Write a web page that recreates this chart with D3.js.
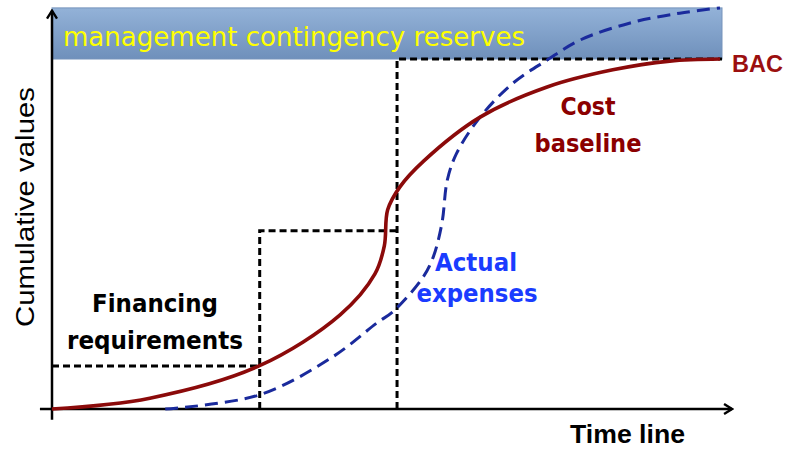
<!DOCTYPE html>
<html>
<head>
<meta charset="utf-8">
<script src="https://d3js.org/d3.v7.min.js"></script>
<style>
body { margin: 0; background: #fff; }
</style>
</head>
<body>
<svg id="chart" width="789" height="449"></svg>
<script>
// cost baseline (planned cumulative cost), time in % of schedule, value in % of BAC
const baselineT = [0, 14.6, 30.9, 43, 48.2, 49.6, 50.1, 51.9, 55.5, 63.9, 73.9, 83.7, 92.2, 99.7];
const baselineV = [0, 3.1, 12.3, 26.9, 38.6, 46.6, 56.9, 63.4, 70.9, 83.4, 92, 96.9, 99.4, 100];

// actual expenses
const actualT = [16.9, 30.9, 41.9, 48.5, 51, 55.4, 56.9, 58.2, 59, 60.4, 63.9, 68.8, 73.9, 78.8, 86.3, 93.7, 99.7];
const actualV = [0, 4, 14.9, 24.6, 28, 37.7, 43.4, 53.1, 65.4, 73.1, 83.4, 93.1, 99.7, 105.4, 110.3, 113.1, 114.6];

// financing requirements (step funding)
const fundingT = [0, 31, 51.5, 100];
const fundingV = [12.3, 50.9, 100];

// management reserve on top of BAC
const reserveTop = 114.6;

const svg = d3.select("#chart");
const x = d3.scaleLinear().domain([0, 100]).range([52, 722]);
const y = d3.scaleLinear().domain([0, 100]).range([409, 59]);

const defs = svg.append("defs");
const grad = defs.append("linearGradient").attr("id", "band").attr("x1", 0).attr("y1", 0).attr("x2", 0).attr("y2", 1);
grad.append("stop").attr("offset", "0%").attr("stop-color", "#93b2d8");
grad.append("stop").attr("offset", "100%").attr("stop-color", "#6f90bb");

defs.append("marker").attr("id", "arrow")
  .attr("viewBox", "0 0 12 12").attr("refX", 10).attr("refY", 6)
  .attr("markerWidth", 12).attr("markerHeight", 12).attr("markerUnits", "userSpaceOnUse")
  .attr("orient", "auto")
  .append("path").attr("d", "M2,1 L10,6 L2,11").attr("fill", "none")
  .attr("stroke", "#000").attr("stroke-width", 2.4);

// reserve band
svg.append("rect")
  .attr("x", x(0)).attr("y", y(reserveTop))
  .attr("width", x(100) - x(0)).attr("height", y(100) - y(reserveTop))
  .attr("fill", "url(#band)").attr("stroke", "#7693bb").attr("stroke-width", 1);

svg.append("text")
  .attr("x", 63).attr("y", 46)
  .attr("font-family", "DejaVu Sans, Verdana, sans-serif").attr("font-size", 27)
  .attr("textLength", 462).attr("lengthAdjust", "spacingAndGlyphs")
  .attr("fill", "#ffff00").text("management contingency reserves");

// axes
svg.append("line").attr("x1", x(0)).attr("y1", y(-3.1)).attr("x2", x(0)).attr("y2", y(113.8))
  .attr("stroke", "#000").attr("stroke-width", 2.5).attr("marker-end", "url(#arrow)");
svg.append("line").attr("x1", x(-1.8)).attr("y1", y(0)).attr("x2", x(101.5)).attr("y2", y(0))
  .attr("stroke", "#000").attr("stroke-width", 2.5).attr("marker-end", "url(#arrow)");

// funding steps
const steps = [
  [[fundingT[0], fundingV[0]], [fundingT[1], fundingV[0]]],
  [[fundingT[1], 0], [fundingT[1], fundingV[1]], [fundingT[2], fundingV[1]]],
  [[fundingT[2], 0], [fundingT[2], fundingV[2]], [fundingT[3], fundingV[2]]]
];
const stepLine = d3.line().x(d => x(d[0])).y(d => y(d[1]));
svg.append("g").selectAll("path").data(steps).join("path")
  .attr("d", stepLine).attr("fill", "none")
  .attr("stroke", "#000").attr("stroke-width", 3).attr("stroke-dasharray", "7,4");

const curve = d3.line().x(d => x(d[0])).y(d => y(d[1])).curve(d3.curveCatmullRom.alpha(0.5));

// actual expenses
svg.append("path")
  .attr("d", curve(actualT.map((t, i) => [t, actualV[i]])))
  .attr("fill", "none").attr("stroke", "#1a2a9c").attr("stroke-width", 3)
  .attr("stroke-dasharray", "13,7");

// cost baseline
svg.append("path")
  .attr("d", curve(baselineT.map((t, i) => [t, baselineV[i]])))
  .attr("fill", "none").attr("stroke", "#8b0a0a").attr("stroke-width", 3.6);

// labels
const tahoma = "DejaVu Sans, Verdana, sans-serif";
const labels = [
  { t: "Financing", x: 155, y: 312, w: 126, c: "#000" },
  { t: "requirements", x: 155, y: 349, w: 176, c: "#000" },
  { t: "Cost", x: 588, y: 115, w: 55, c: "#8b0000" },
  { t: "baseline", x: 588, y: 152, w: 107, c: "#8b0000" },
  { t: "Actual", x: 476, y: 271, w: 82, c: "#1a3cff" },
  { t: "expenses", x: 477, y: 302, w: 121, c: "#1a3cff" }
];
svg.append("g").selectAll("text").data(labels).join("text")
  .attr("x", d => d.x).attr("y", d => d.y)
  .attr("text-anchor", "middle")
  .attr("font-family", tahoma).attr("font-size", 25).attr("font-weight", "bold")
  .attr("textLength", d => d.w).attr("lengthAdjust", "spacingAndGlyphs")
  .attr("fill", d => d.c).text(d => d.t);

svg.append("text").attr("x", 732).attr("y", 72)
  .attr("font-family", "Liberation Sans, Arial, sans-serif").attr("font-size", 24).attr("font-weight", "bold")
  .attr("textLength", 51).attr("lengthAdjust", "spacingAndGlyphs")
  .attr("fill", "#9b0f0f").text("BAC");

svg.append("text").attr("x", 570).attr("y", 443)
  .attr("font-family", "Liberation Sans, Arial, sans-serif").attr("font-size", 25).attr("font-weight", "bold")
  .attr("textLength", 115).attr("lengthAdjust", "spacingAndGlyphs")
  .attr("fill", "#000").text("Time line");

svg.append("text")
  .attr("transform", "translate(34,207) rotate(-90)")
  .attr("text-anchor", "middle")
  .attr("font-family", "Liberation Sans, Arial, sans-serif").attr("font-size", 25)
  .attr("textLength", 240).attr("lengthAdjust", "spacingAndGlyphs")
  .attr("fill", "#000").text("Cumulative values");
</script>
</body>
</html>
